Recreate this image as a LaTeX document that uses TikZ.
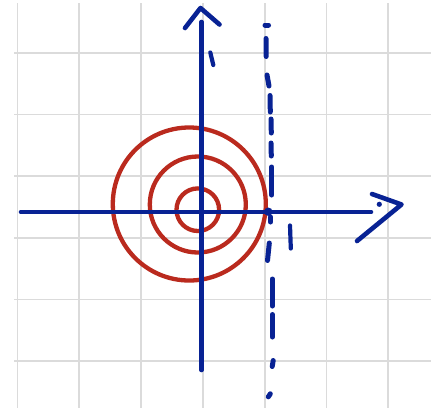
\documentclass[tikz,border=0pt]{standalone}
\begin{document}
\begin{tikzpicture}[x=1pt,y=-1pt,
  gridline/.style={line width=1.7pt,draw=gray!28},
  axis/.style={line width=4.6pt,draw=axblue,line cap=round,line join=round},
  ring/.style={line width=4.3pt,draw=ringred},
  dashstroke/.style={line width=5pt,draw=axblue,line cap=round}]
\definecolor{axblue}{RGB}{8,34,148}
\definecolor{ringred}{RGB}{186,42,30}
\useasboundingbox (0,0) rectangle (438,408);
\fill[white] (0,0) rectangle (438,408);
% grid
\foreach \x in {17.5,79.3,141.1,202.9,264.7,326.5,388.3}
  \draw[gridline] (\x,3) -- (\x,408);
\foreach \y in {53,114.6,176.2,237.8,299.4,361}
  \draw[gridline] (14,\y) -- (431,\y);
% circles
\draw[ring] (189.3,204) circle (76.5);
\draw[ring] (197.8,204.5) circle (48);
\draw[ring] (197.8,209.7) circle (21.3);
% axes
\coordinate (yb) at (201.5,370);
\coordinate (yt) at (201.5,22);
\draw[axis] (yb) -- (yt);
\draw[axis] (185,28) -- (200.5,8) -- (219.5,24.5);
\coordinate (xl) at (21,212);
\coordinate (xr) at (371,212);
\draw[axis] (xl) -- (xr);
\draw[axis] (372,194) -- (401.5,204.5) -- (357,241);
\fill[axblue] (379.3,204.3) circle (2.6);
% tick marks
\draw[dashstroke,line width=4.2pt] (210.3,52.5) -- (213.3,65);
\draw[dashstroke,line width=4.2pt] (290,225.5) -- (290.8,248.5);
% dashed vertical line
\draw[dashstroke] (265,25) -- (268.5,25);
\draw[dashstroke] (266,38.5) -- (266.2,56.5);
\draw[dashstroke] (267,75) -- (269,86);
\draw[dashstroke] (270,95.5) -- (270.3,112);
\draw[dashstroke] (271,119) -- (271.3,133);
\draw[dashstroke] (271,143) -- (271.3,156);
\draw[dashstroke] (271.8,167) -- (271.8,195);
\fill[axblue] (268.3,211.7) circle (4.2);
\draw[dashstroke] (270.5,217) -- (270.5,222);
\draw[dashstroke] (269.3,243) -- (267.5,260.5);
\draw[dashstroke] (272.3,279) -- (272.3,306);
\draw[dashstroke] (272.3,314.5) -- (272.3,337);
\draw[dashstroke] (273.2,360.5) -- (272.2,366.5);
\draw[dashstroke] (270.3,393.8) -- (268.3,396.8);
\end{tikzpicture}
\end{document}
